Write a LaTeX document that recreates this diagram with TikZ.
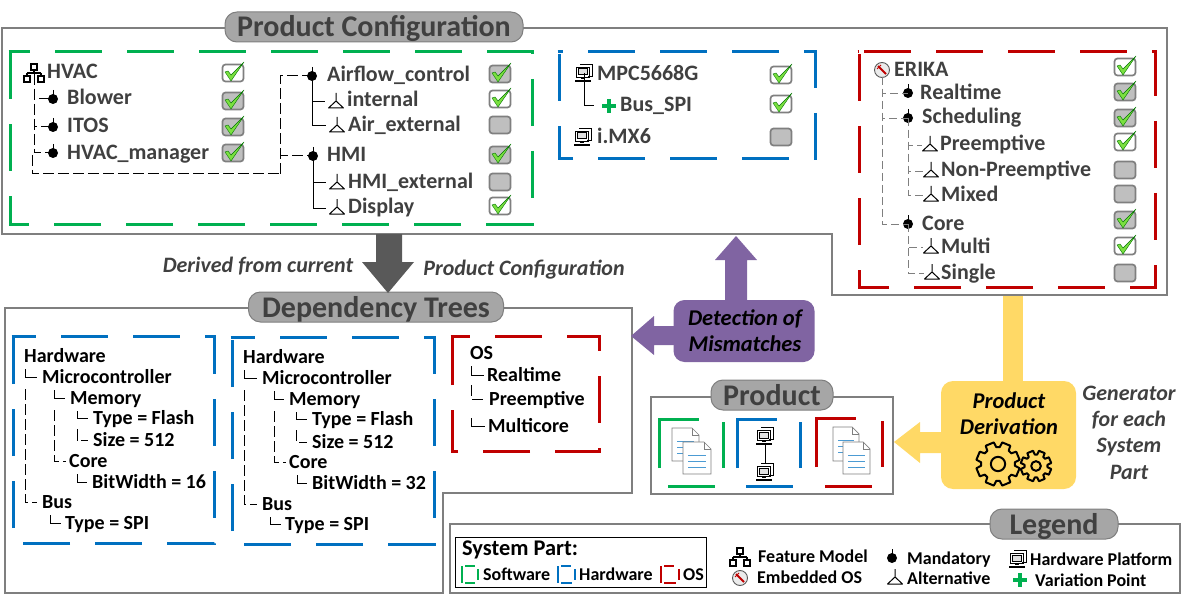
\documentclass[tikz,border=0pt]{standalone}
\usepackage{fontspec}
\setmainfont{Carlito}
\definecolor{frameg}{HTML}{7F7F7F}
\definecolor{pillg}{HTML}{A6A6A6}
\definecolor{inkg}{HTML}{404040}
\definecolor{swgreen}{HTML}{00B050}
\definecolor{hwblue}{HTML}{0070C0}
\definecolor{osred}{HTML}{C00000}
\definecolor{purp}{HTML}{8064A2}
\definecolor{yell}{HTML}{FFD966}
\definecolor{tickg}{HTML}{7BE040}
\tikzset{
  lbl/.style={anchor=west,inner sep=0pt,text height=18pt,text depth=4pt,text=inkg,font=\fontsize{22}{24}\selectfont\bfseries},
  deplbl/.style={lbl,text height=16pt,text=black,font=\fontsize{20}{24}\selectfont\bfseries},
  sumlbl/.style={lbl,text height=16pt,text=black,font=\fontsize{22.4}{24}\selectfont\bfseries},
  leglbl/.style={lbl,text height=16pt,text=black,font=\fontsize{18}{20}\selectfont\bfseries},
  itlbl/.style={inner sep=0pt,text height=18pt,text depth=4pt,text=inkg,font=\fontsize{22}{24}\selectfont\bfseries\itshape},
  blacklbl/.style={inner sep=0pt,text height=18pt,text depth=4pt,text=black,font=\fontsize{22.5}{24}\selectfont\bfseries\itshape},
  frame/.style={draw=frameg,line width=1.6pt},
  pill/.style={draw=frameg,fill=pillg,line width=1pt,rounded corners=12pt,minimum height=30pt,inner sep=0pt,text height=24pt,text depth=4pt,text=inkg,font=\fontsize{30}{32}\selectfont\bfseries},
  chkbox/.style={draw=frameg,line width=1.7pt,rounded corners=3pt,minimum width=21pt,minimum height=17pt,inner sep=0pt},
  treeline/.style={black,line width=1pt,dash pattern=on 11pt off 4pt},
  solidline/.style={black,line width=1pt},
  grayline/.style={frameg,line width=0.8pt,dash pattern=on 8pt off 4pt},
  partline/.style={line width=3pt,dash pattern=on 47pt off 25pt},
  solidpart/.style={line width=3pt}
}
% icons, all drawn around a named coordinate
\newcommand{\tickmark}[2]{\draw[fill=tickg,draw=green!45!black,line width=0.4pt,shift={(#1,#2)}] (-8,-1) -- (-5,-2) -- (-2,2) -- (11,-11) -- (-2,8) -- cycle;}
\newcommand{\chkon}[2]{\node[chkbox,fill=white] (c#1-#2) at (#1,#2) {}; \tickmark{#1}{#2}}
\newcommand{\chkgray}[2]{\node[chkbox,fill=black!25] (c#1-#2) at (#1,#2) {}; \tickmark{#1}{#2}}
\newcommand{\chkoff}[2]{\node[chkbox,fill=black!25] (c#1-#2) at (#1,#2) {};}
\newcommand{\mandicon}[3]{\coordinate (#1) at (#2,#3); \fill[shift={(#1)}] (0,0) circle (5pt); \draw[shift={(#1)},line width=0.9pt] (0,-9) -- (0,0);}
\newcommand{\alticon}[3]{\coordinate (#1) at (#2,#3); \draw[shift={(#1)},line width=1pt,line join=round] (-7.5,6) -- (7.5,6) -- (0,-1) -- cycle (0,-1) -- (0,-9);}
\newcommand{\fmicon}[3]{\coordinate (#1) at (#2,#3);
  \draw[shift={(#1)},line width=1.1pt] (-3,-10) rectangle (3,-4) (0,-4) -- (0,-1) (-7,-1) -- (7,-1) (-7,-1) -- (-7,2) (7,-1) -- (7,2) (-10,2) rectangle (-4,8) (4,2) rectangle (10,8);}
\newcommand{\hwicon}[3]{\coordinate (#1) at (#2,#3);
  \draw[shift={(#1)},line width=0.9pt,fill=white] (-4,-9) -- (8,-9) -- (8,3) -- (4,3) (-8,-6) rectangle (5,4);
  \draw[shift={(#1)},line width=1pt,fill=black!12] (-6,-4) rectangle (3,2);
  \draw[shift={(#1)},line width=1.2pt] (-3,5) -- (1,5) (-9,8) -- (7,8);}
\newcommand{\osicon}[3]{\coordinate (#1) at (#2,#3);
  \draw[shift={(#1)},line width=0.9pt,frameg!70!black,fill=black!8] (0,0) circle (7.5pt);
  \draw[shift={(#1)},line width=1.8pt,red!75!black] (-4,-4) -- (4,4);
  \draw[shift={(#1)},line width=0.9pt,red!75!black] (-1,-5) -- (-5,-1);}
\newcommand{\plusicon}[3]{\coordinate (#1) at (#2,#3); \draw[shift={(#1)},swgreen,line width=4pt] (-7,0) -- (7,0) (0,-7) -- (0,7);}
\newcommand{\docicon}[4]{\draw[frameg,fill=white,line width=0.7pt,shift={(#1,#2)}] (0,0) -- (#3-7,0) -- (#3,7) -- (#3,#4) -- (0,#4) -- cycle;
  \draw[frameg,line width=0.7pt,shift={(#1,#2)}] (#3-7,0) -- (#3-7,7) -- (#3,7);
  \draw[hwblue!70,line width=0.8pt,shift={(#1,#2)}] (5,13) -- (#3-5,13) (5,19) -- (#3-5,19) (5,25) -- (#3-5,25);}
\newcommand{\gearicon}[5]{\draw[shift={(#1,#2)},line width=2pt,line join=round] (0:#3) \foreach \a in {0,#5,...,359} { -- (\a+6:#3) -- (\a+11:#4) -- (\a+#5-11:#4) -- (\a+#5-6:#3)} -- cycle (0,0) circle ({#3*0.42});}
% dashed system part box: starts at the first whole dash of its top edge
\newcommand{\partbox}[6]{\draw[partline,#1] (#6,#3) -| (#4,#5) -| (#2,#3);
  \draw[solidpart,#1] (#2-1.5,#3) -- ({max(#2,#6-25)},#3);}
\newcommand{\prodpart}[5]{\draw[solidpart,#1] (#2,#3+49) -- (#2,#3) -- (#2+40,#3) (#4,#3+3) -- (#4,#3+49) (#2+9,#5) -- (#2+56,#5);}
\newcommand{\minipart}[5]{\draw[line width=1.2pt,#1] (#2,#5) -- (#2,#3) (#2+3,#3) -- (#2+13,#3) (#4,#3+3) -- (#4,#5-3) (#2+3,#5) -- (#4-3,#5);}
\begin{document}
\begin{tikzpicture}[x=1pt,y=-1pt]
    \useasboundingbox (0,0) rectangle (1192,599);

    % frames
    \draw[frame] (2,28) -- (1167,28) -- (1167,295) -- (832,295) -- (832,234) -- (2,234) -- cycle;
    \draw[frame] (5,308) -- (632,308) -- (632,493) -- (443,493) -- (443,593) -- (5,593) -- cycle;
    \draw[frame] (651,397) rectangle (893,494);
    \draw[frame] (450,524) rectangle (1180,593);
    \node[pill,minimum width=298pt] (titleconf) at (374,27) {Product Configuration};
    \node[pill,minimum width=255pt] (titledep) at (376,307) {Dependency Trees};
    \node[pill,minimum width=122pt] (titleprod) at (772,395) {Product};
    \node[pill,minimum width=128pt] (titleleg) at (1054,524) {Legend};

    % big arrows
    \fill[black!65] (376,234) -- (402,234) -- (402,262) -- (414,262) -- (388,293) -- (362,262) -- (376,262) -- cycle;
    \fill[purp] (725,310) -- (725,260) -- (715,260) -- (736,236) -- (757,260) -- (747,260) -- (747,310) -- cycle;
    \fill[purp] (680,326) -- (654,326) -- (654,316) -- (631,336) -- (654,355) -- (654,345) -- (680,345) -- cycle;
    \fill[yell] (1002.5,296) rectangle (1023,390);
    \fill[yell] (950,432) -- (920,432) -- (920,422) -- (894,442) -- (920,463) -- (920,453) -- (950,453) -- cycle;
    \node[fill=purp,rounded corners=11pt,minimum width=141pt,minimum height=62pt,inner sep=0pt] (detect) at (744,331) {};
    \node[fill=yell,rounded corners=12pt,minimum width=135pt,minimum height=108pt,inner sep=0pt] (deriv) at (1008.5,435) {};

    \node[itlbl] (derived) at (258,265) {Derived from current};
    \node[itlbl] (prodconf) at (524,268) {Product Configuration};
    \node[blacklbl] (detect1) at (745,318) {Detection of};
    \node[blacklbl] (detect2) at (745,344) {Mismatches};
    \node[blacklbl] (deriv1) at (1009,401) {Product};
    \node[blacklbl] (deriv2) at (1009,427) {Derivation};
    \gearicon{998}{464}{17}{22}{45}
    \gearicon{1036}{466}{11.5}{15.5}{45}
    \node[itlbl] (gen1) at (1129,393) {Generator};
    \node[itlbl] (gen2) at (1129,419) {for each};
    \node[itlbl] (gen3) at (1129,445) {System};
    \node[itlbl] (gen4) at (1129,472) {Part};

    % product configuration: software
    \partbox{swgreen}{10}{52}{532}{224}{55}
    \fmicon{fmhvac}{34}{74}
    \mandicon{mblower}{53}{99}
    \mandicon{mitos}{53}{127}
    \mandicon{mmanager}{53}{153}
    \mandicon{mairflow}{312}{76}
    \mandicon{mhmi}{313}{156}
    \alticon{ainternal}{336}{102}
    \alticon{aairext}{337}{126}
    \alticon{ahmiext}{337}{183}
    \alticon{adisplay}{337}{208}
    \coordinate (hvacturn) at (280,174);
    \draw[treeline] (fmhvac) |- (mblower);
    \draw[treeline] (fmhvac) |- (mitos);
    \draw[treeline] (fmhvac) |- (mmanager);
    \draw[treeline] (32,155) |- (hvacturn);
    \draw[treeline] (hvacturn) |- (mairflow);
    \draw[treeline] (hvacturn) |- (mhmi);
    \draw[solidline,shorten >=11pt] (mairflow) |- (ainternal);
    \draw[solidline,shorten >=11pt] (mairflow) |- (aairext);
    \draw[solidline,shorten >=11pt] (mhmi) |- (ahmiext);
    \draw[solidline,shorten >=11pt] (mhmi) |- (adisplay);
    \node[lbl] (hvac) at (47,72) {HVAC};
    \node[lbl] (blower) at (67,98) {Blower};
    \node[lbl] (itos) at (67,126) {ITOS};
    \node[lbl] (manager) at (67,153) {HVAC\_manager};
    \node[lbl] (airflow) at (327,75) {Airflow\_control};
    \node[lbl] (internal) at (347,100) {internal};
    \node[lbl] (airext) at (348,125) {Air\_external};
    \node[lbl] (hmi) at (327,155) {HMI};
    \node[lbl] (hmiext) at (348,182) {HMI\_external};
    \node[lbl] (display) at (348,206) {Display};
    \chkon{233}{73} \chkgray{233}{101} \chkgray{233}{127} \chkgray{233}{153}
    \chkgray{500}{74} \chkon{500}{99} \chkoff{500}{125} \chkgray{500}{155} \chkoff{500}{182} \chkon{500}{206}

    % product configuration: hardware
    \partbox{hwblue}{559}{52}{815}{159}{588}
    \hwicon{hwmpc}{584}{73}
    \hwicon{hwimx}{583}{137}
    \plusicon{pbus}{609}{106}
    \draw[solidline,shorten >=15pt] (hwmpc) |- (pbus);
    \node[lbl] (mpc) at (597,74) {MPC5668G};
    \node[lbl] (bus) at (620,105) {Bus\_SPI};
    \node[lbl] (imx) at (597,137) {i.MX6};
    \chkon{781}{75} \chkon{781}{104} \chkoff{781}{137}

    % product configuration: os
    \partbox{osred}{859}{52}{1155}{287}{864}
    \osicon{oserika}{882}{70}
    \mandicon{mreal}{908}{93}
    \mandicon{msched}{908}{118}
    \mandicon{mcore}{908}{224}
    \alticon{apre}{930}{145}
    \alticon{anon}{931}{171}
    \alticon{amix}{931}{195}
    \alticon{amulti}{931}{247}
    \alticon{asingle}{932}{273}
    \draw[grayline,shorten <=7pt] (oserika) |- (mreal);
    \draw[grayline,shorten <=7pt] (oserika) |- (msched);
    \draw[grayline,shorten <=7pt] (oserika) |- (mcore);
    \draw[grayline,shorten >=8pt] (msched) |- (apre);
    \draw[grayline,shorten >=8pt] (msched) |- (anon);
    \draw[grayline,shorten >=8pt] (msched) |- (amix);
    \draw[grayline,shorten >=8pt] (mcore) |- (amulti);
    \draw[grayline,shorten >=8pt] (mcore) |- (asingle);
    \node[lbl] (erika) at (894,70) {ERIKA};
    \node[lbl] (real) at (920,93) {Realtime};
    \node[lbl] (sched) at (922,117) {Scheduling};
    \node[lbl] (pre) at (940,144) {Preemptive};
    \node[lbl] (non) at (941,170) {Non-Preemptive};
    \node[lbl] (mix) at (941,194) {Mixed};
    \node[lbl] (core) at (922,223) {Core};
    \node[lbl] (multi) at (941,246) {Multi};
    \node[lbl] (single) at (941,272) {Single};
    \chkon{1125}{67} \chkgray{1125}{92} \chkgray{1125}{118} \chkon{1125}{142} \chkoff{1125}{170}
    \chkoff{1125}{194} \chkgray{1125}{220} \chkon{1125}{246} \chkoff{1125}{273}

    % dependency trees
    \partbox{hwblue}{13}{336}{214}{543}{61}
    \partbox{hwblue}{232}{337}{434}{544}{280}
    \partbox{osred}{452}{336}{599}{451}{495}
    \node[deplbl] (hwa) at (24,356) {Hardware};
    \node[deplbl] (mca) at (42,377) {Microcontroller};
    \node[deplbl] (mema) at (70,398) {Memory};
    \node[deplbl] (typa) at (93,418) {Type = Flash};
    \node[deplbl] (siza) at (93,440) {Size = 512};
    \node[deplbl] (cora) at (69,461) {Core};
    \node[deplbl] (bita) at (92,482) {BitWidth = 16};
    \node[deplbl] (busa) at (42,502) {Bus};
    \node[deplbl] (spia) at (65,523) {Type = SPI};
    \node[deplbl] (hwb) at (243,357) {Hardware};
    \node[deplbl] (mcb) at (262,378) {Microcontroller};
    \node[deplbl] (memb) at (289,399) {Memory};
    \node[deplbl] (typb) at (312,419) {Type = Flash};
    \node[deplbl] (sizb) at (312,442) {Size = 512};
    \node[deplbl] (corb) at (289,462) {Core};
    \node[deplbl] (bitb) at (312,483) {BitWidth = 32};
    \node[deplbl] (busb) at (262,504) {Bus};
    \node[deplbl] (spib) at (285,524) {Type = SPI};
    \foreach \t in {a,b} {
        \draw[solidline,shorten >=5pt] ([xshift=1pt,yshift=-3pt]hw\t.south west) |- (mc\t.west);
        \draw[treeline,shorten >=5pt,shorten <=20pt] ([xshift=1pt,yshift=-3pt]hw\t.south west) |- (bus\t.west);
        \draw[solidline,shorten >=5pt] ([xshift=12pt,yshift=-3pt]mc\t.south west) |- (mem\t.west);
        \draw[treeline,shorten >=3pt,shorten <=20pt] ([xshift=12pt,yshift=-3pt]mc\t.south west) |- (cor\t.west);
        \draw[solidline,shorten >=5pt] ([xshift=7pt,yshift=-3pt]mem\t.south west) |- (typ\t.west);
        \draw[treeline,shorten >=5pt,shorten <=18pt] ([xshift=7pt,yshift=-3pt]mem\t.south west) |- (siz\t.west);
        \draw[solidline,shorten >=5pt] ([xshift=8pt,yshift=-3pt]cor\t.south west) |- (bit\t.west);
        \draw[solidline,shorten >=4pt] ([xshift=8pt,yshift=-3pt]bus\t.south west) |- (spi\t.west);
    }
    \node[deplbl] (osroot) at (470,353) {OS};
    \node[deplbl] (osreal) at (487,375) {Realtime};
    \node[deplbl] (ospre) at (489,399) {Preemptive};
    \node[deplbl] (osmulti) at (488,426) {Multicore};
    \draw[solidline,shorten >=3pt] ([xshift=1pt,yshift=-3pt]osroot.south west) |- (osreal.west);
    \draw[treeline,shorten >=5pt,shorten <=19pt] ([xshift=1pt,yshift=-3pt]osroot.south west) |- (ospre.west);
    \draw[solidline,shorten >=3pt,shorten <=52pt] ([xshift=1pt,yshift=-3pt]osroot.south west) |- (osmulti.west);

    % product
    \prodpart{swgreen}{659}{419}{723}{486}
    \prodpart{hwblue}{737}{419}{800}{486}
    \prodpart{osred}{816}{418}{882}{486}
    \docicon{672}{428}{27}{33}
    \docicon{683}{442}{28}{32}
    \docicon{833}{427}{26}{34}
    \docicon{843}{442}{27}{32}
    \hwicon{hwtop}{765}{436}
    \hwicon{hwbot}{765}{472}
    \draw[solidline,shorten <=8pt,shorten >=8pt] (hwtop) -- (hwbot);

    % legend
    \draw[black,line width=0.8pt] (455,537) rectangle (706,587);
    \node[sumlbl] (syspart) at (462,549) {System Part:};
    \minipart{swgreen}{462}{566}{478}{583}
    \minipart{hwblue}{558}{566}{575}{583}
    \minipart{osred}{661}{566}{679}{583}
    \node[leglbl] (legsw) at (483,574) {Software};
    \node[leglbl] (leghw) at (579,574) {Hardware};
    \node[leglbl] (legos) at (683,574) {OS};
    \fmicon{legfm}{740}{558}
    \osicon{legerika}{740}{578}
    \mandicon{legmand}{892}{558}
    \alticon{legalt}{895}{578}
    \hwicon{leghwp}{1018}{559}
    \plusicon{legplus}{1020}{580}
    \node[leglbl] (t1) at (758,556) {Feature Model};
    \node[leglbl] (t2) at (757,577) {Embedded OS};
    \node[leglbl] (t3) at (907,558) {Mandatory};
    \node[leglbl] (t4) at (907,578) {Alternative};
    \node[leglbl] (t5) at (1030,559) {Hardware Platform};
    \node[leglbl] (t6) at (1035,580) {Variation Point};
\end{tikzpicture}
\end{document}
